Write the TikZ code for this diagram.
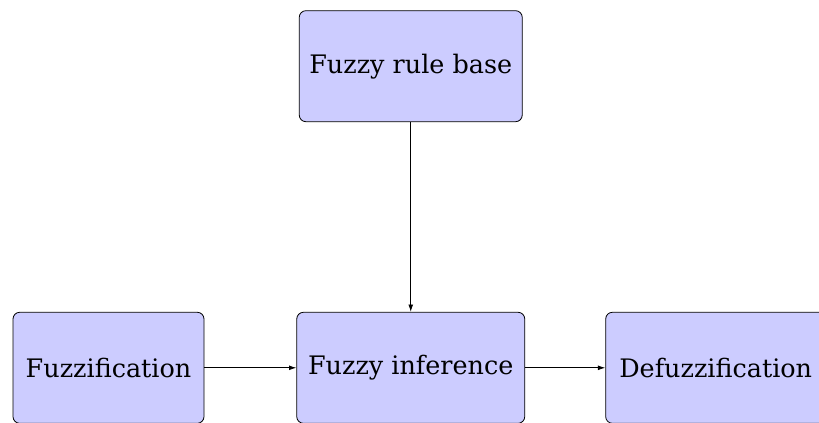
\documentclass[tikz,border=0pt]{standalone}
\usepackage{fontspec}
\setmainfont{DejaVu Serif}
\usetikzlibrary{arrows.meta}
\begin{document}
\begin{tikzpicture}[x=0.75pt,y=-0.75pt,
  block/.style={draw, line width=0.6pt, fill=blue!20, rounded corners=5pt,
    minimum height=83.25pt, inner sep=0pt,
    font=\fontsize{19.1}{23}\selectfont},
  link/.style={-{Latex[length=5.5pt,width=3.6pt]}, line width=0.6pt}]
\useasboundingbox (0,0) rectangle (819,423);
\node[block, minimum width=167.25pt] (rule) at (410.75,66.2) {Fuzzy rule base};
\node[block, minimum width=143.25pt] (fuzz) at (108.5,367.8) {Fuzzification};
\node[block, minimum width=171pt] (inf) at (410.75,367.8) {Fuzzy inference};
\node[block, minimum width=165pt] (defuzz) at (715.7,367.8) {Defuzzification};
\draw[link] (rule) -- (inf);
\draw[link] (fuzz) -- (inf);
\draw[link] (inf) -- (defuzz);
\end{tikzpicture}
\end{document}
